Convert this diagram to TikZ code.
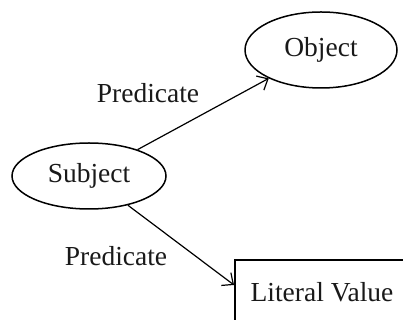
\documentclass[tikz,border=0pt]{standalone}
\usepackage{fontspec}
\setmainfont{Liberation Serif}
\usetikzlibrary{arrows.meta,shapes.geometric}
\begin{document}
\begin{tikzpicture}[x=1pt,y=1pt,
  every node/.style={font=\fontsize{27.5}{30}\selectfont, text=black!90},
  ell/.style={draw, ellipse, line width=1.5pt, inner sep=0pt},
  box/.style={draw, rectangle, line width=2pt, inner sep=0pt},
  conn/.style={line width=1.2pt, -{Straight Barb[length=9pt,width=16pt,line width=1.2pt]}},
  lbl/.style={inner sep=0pt}]
\useasboundingbox (0,0) rectangle (403,320);
\node[ell, minimum width=154, minimum height=66] (s) at (89,144) {Subject};
\node[ell, minimum width=152, minimum height=76] (o) at (321,270) {Object};
\node[box, minimum width=174, minimum height=64] (l) at (322,28) {Literal Value};
\node[lbl] (p1) at (148,227) {Predicate};
\node[lbl] (p2) at (116,64) {Predicate};
\draw[conn] (s) -- (o);
\draw[conn] (s) -- ([yshift=7pt]l.west);
\end{tikzpicture}
\end{document}
